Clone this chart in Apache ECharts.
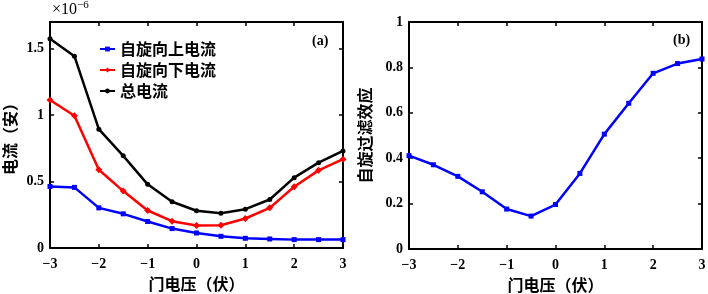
<!DOCTYPE html>
<html>
<head>
<meta charset="utf-8">
<script src="https://cdn.jsdelivr.net/npm/echarts@6/dist/echarts.min.js"></script>
<style>
  html, body { margin: 0; padding: 0; background: #fff; }
  #chart { width: 708px; height: 294px; }
</style>
</head>
<body>
<div id="chart"></div>
<script>
// gate voltage (V)
const gateVoltage = [-3, -2.5, -2, -1.5, -1, -0.5, 0, 0.5, 1, 1.5, 2, 2.5, 3]
// currents, in units of 1e-6 A
const spinUp = [0.463, 0.456, 0.302, 0.257, 0.199, 0.146, 0.113, 0.088, 0.073, 0.068, 0.063, 0.063, 0.063]
const spinDown = [1.113, 0.995, 0.589, 0.428, 0.282, 0.202, 0.169, 0.171, 0.222, 0.302, 0.461, 0.584, 0.668]
const totalCurrent = [1.574, 1.443, 0.894, 0.693, 0.479, 0.348, 0.280, 0.262, 0.292, 0.365, 0.529, 0.642, 0.730]
// spin filter efficiency
const filterEff = [0.411, 0.371, 0.320, 0.252, 0.176, 0.145, 0.196, 0.333, 0.506, 0.642, 0.774, 0.817, 0.837]

const seriesNames = ["自旋向上电流", "自旋向下电流", "总电流"]

const cjk = "'Noto Sans CJK SC', sans-serif"
const serif = "'Liberation Serif', 'DejaVu Serif', serif"

const pairs = (ys) => gateVoltage.map((x, i) => [x, ys[i]])
const minus = (v) => String(v).replace("-", "\u2212")

const lineW = 2.5
const boxLine = { show: true, onZero: false, lineStyle: { color: "#000", width: 2 } }
const inTick = { show: true, inside: true, length: 4, lineStyle: { color: "#000", width: 1.5 } }
const tickFont = { color: "#000", fontFamily: serif, fontWeight: "bold", fontSize: 14 }
const nameFont = { color: "#000", fontFamily: cjk, fontWeight: "bold", fontSize: 16 }

const xBottom = (gi) => ({
  type: "value", gridIndex: gi, min: -3, max: 3, interval: 1,
  axisLine: boxLine, axisTick: inTick, splitLine: { show: false },
  axisLabel: { ...tickFont, margin: 9, formatter: minus },
  name: "门电压（伏）", nameLocation: "middle", nameGap: 26, nameTextStyle: nameFont,
})
const xTop = (gi) => ({
  type: "value", gridIndex: gi, position: "top", min: -3, max: 3, interval: 1,
  axisLine: boxLine, axisTick: inTick, splitLine: { show: false }, axisLabel: { show: false },
})
const yLeft = (gi, max, interval, name, gap) => ({
  type: "value", gridIndex: gi, min: 0, max: max, interval: interval,
  axisLine: boxLine, axisTick: inTick, splitLine: { show: false },
  axisLabel: {
    ...tickFont, margin: 6, showMaxLabel: max === 1,
    formatter: (v) => String(+v.toFixed(2)),
  },
  name: name, nameLocation: "middle", nameGap: gap, nameTextStyle: nameFont,
})
const yRight = (gi, max, interval) => ({
  type: "value", gridIndex: gi, position: "right", min: 0, max: max, interval: interval,
  axisLine: boxLine, axisTick: inTick, splitLine: { show: false }, axisLabel: { show: false },
})

const lineSeries = (name, data, color, symbol, size, xi, yi) => ({
  name: name, type: "line", xAxisIndex: xi, yAxisIndex: yi, data: data,
  symbol: symbol, symbolSize: size, showSymbol: true,
  lineStyle: { color: color, width: lineW }, itemStyle: { color: color },
  emphasis: { disabled: true }, animation: false,
})

const option = {
  animation: false,
  grid: [
    { left: 50, top: 22, width: 293, height: 226, outerBoundsMode: "none" },
    { left: 409, top: 22, width: 293, height: 227, outerBoundsMode: "none" },
  ],
  xAxis: [xBottom(0), xTop(0), xBottom(1), xTop(1)],
  yAxis: [
    yLeft(0, 1.7, 0.5, "电流（安）", 32), yRight(0, 1.7, 0.5),
    yLeft(1, 1, 0.2, "自旋过滤效应", 36), yRight(1, 1, 0.2),
  ],
  legend: {
    data: seriesNames, orient: "vertical", left: 94, top: 36,
    itemWidth: 15, itemHeight: 6, itemGap: 5,
    textStyle: { color: "#000", fontFamily: cjk, fontWeight: "bold", fontSize: 16, lineHeight: 16 },
  },
  graphic: [
    {
      type: "text", left: 52, top: 0,
      style: {
        text: "×10{s|−6}", fill: "#000", font: "16px " + serif,
        rich: { s: { fontSize: 11, verticalAlign: "top", fontFamily: serif, padding: [0, 0, 9, 0] } },
      },
    },
    { type: "text", left: 312, top: 34, style: { text: "(a)", fill: "#000", font: "bold 14px " + serif } },
    { type: "text", left: 673, top: 33, style: { text: "(b)", fill: "#000", font: "bold 14px " + serif } },
  ],
  series: [
    lineSeries(seriesNames[0], pairs(spinUp), "#0000ff", "rect", 5, 0, 0),
    lineSeries(seriesNames[1], pairs(spinDown), "#ff0000", "diamond", 7, 0, 0),
    lineSeries(seriesNames[2], pairs(totalCurrent), "#000000", "circle", 5, 0, 0),
    lineSeries("自旋过滤效应", pairs(filterEff), "#0000ff", "rect", 5, 2, 2),
  ],
}

const chart = echarts.init(document.getElementById("chart"))
chart.setOption(option)
</script>
</body>
</html>
